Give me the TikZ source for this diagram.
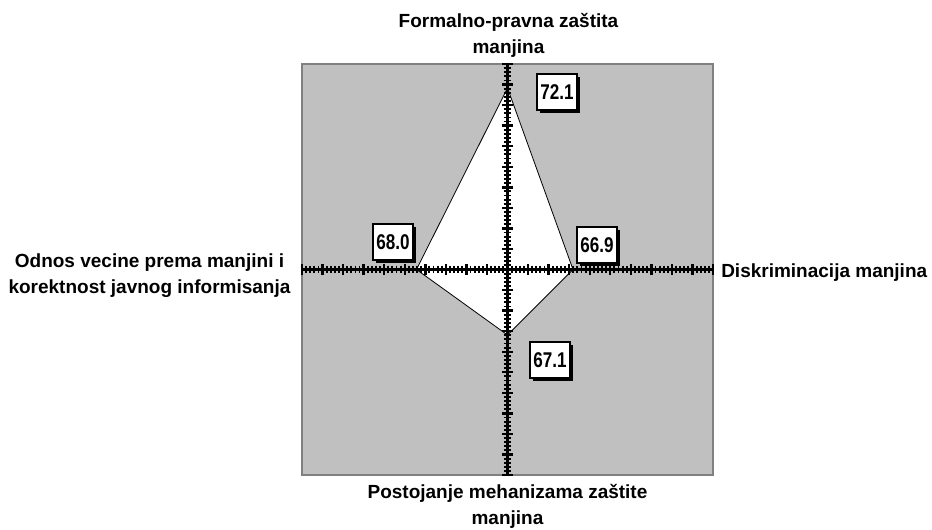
\documentclass[tikz,border=0pt]{standalone}
\usepackage{fontspec}
\setmainfont{Liberation Sans}
\newfontfamily\lblfont[FakeStretch=0.8]{Liberation Sans}
\usetikzlibrary{shadows}
\definecolor{plotgray}{HTML}{C0C0C0}
\definecolor{bordergray}{HTML}{808080}
\tikzset{
  axtitle/.style={font=\fontsize{14.25pt}{19.5pt}\selectfont\bfseries, align=center, inner sep=0pt},
  valbox/.style={draw=black, fill=white, line width=0.9pt, minimum width=30pt, minimum height=27pt, inner sep=0pt,
    font=\lblfont\fontsize{16pt}{18pt}\selectfont\bfseries,
    drop shadow={shadow xshift=2.3pt, shadow yshift=-2.3pt, fill=black, opacity=1}},
  axisline/.style={line width=2.6pt, black},
  minortick/.style={line width=1.4pt, black},
  majortick/.style={line width=1.8pt, black},
  plotarea/.style={fill=plotgray, draw=bordergray, line width=1pt},
  series/.style={fill=white, draw=black, line width=0.6pt}
}
\begin{document}
\begin{tikzpicture}[x=0.75pt, y=-0.75pt]
\useasboundingbox (0,0) rectangle (932,529);
% plot area
\draw[plotarea] (302,64) rectangle (713,475);
% series polygon
\coordinate (ctr) at (507.5,269.5);
\coordinate (vtop) at (507.5,88);
\coordinate (vright) at (573,269.5);
\coordinate (vbot) at (507.5,335);
\coordinate (vleft) at (416.5,269.5);
\filldraw[series] (vtop) -- (vright) -- (vbot) -- (vleft) -- cycle;
% axes
\coordinate (hl) at (302,269.5);
\coordinate (hr) at (713,269.5);
\coordinate (vt) at (507.5,64);
\coordinate (vb) at (507.5,475);
\draw[axisline] (hl) -- (hr);
\draw[axisline] (vt) -- (vb);
\foreach \i in {-50,...,50}{
  \pgfmathsetmacro{\p}{\i*4.11}
  \pgfmathtruncatemacro{\m}{mod(abs(\i),5)}
  \ifnum\m=0
    \draw[majortick] ([xshift=\p*0.75pt]ctr) ++(0,-5.5) -- ++(0,11);
    \draw[majortick] ([yshift=-\p*0.75pt]ctr) ++(-5.5,0) -- ++(11,0);
  \else
    \draw[minortick] ([xshift=\p*0.75pt]ctr) ++(0,-3.8) -- ++(0,7.6);
    \draw[minortick] ([yshift=-\p*0.75pt]ctr) ++(-3.8,0) -- ++(7.6,0);
  \fi
}
% value labels
\node[valbox] (l721) at (557,92) {72.1};
\node[valbox] (l680) at (393,242) {68.0};
\node[valbox] (l669) at (597,245) {66.9};
\node[valbox] (l671) at (550,360) {67.1};
% axis titles
\node[axtitle] (ttop) at (508.5,35) {Formalno-pravna zaštita\\manjina};
\node[axtitle] (tleft) at (149.5,276) {Odnos vecine prema manjini i\\korektnost javnog informisanja};
\node[axtitle, anchor=base west] (tright) at (721,277) {Diskriminacija manjina};
\node[axtitle] (tbot) at (507.5,506) {Postojanje mehanizama zaštite\\manjina};
\end{tikzpicture}
\end{document}
